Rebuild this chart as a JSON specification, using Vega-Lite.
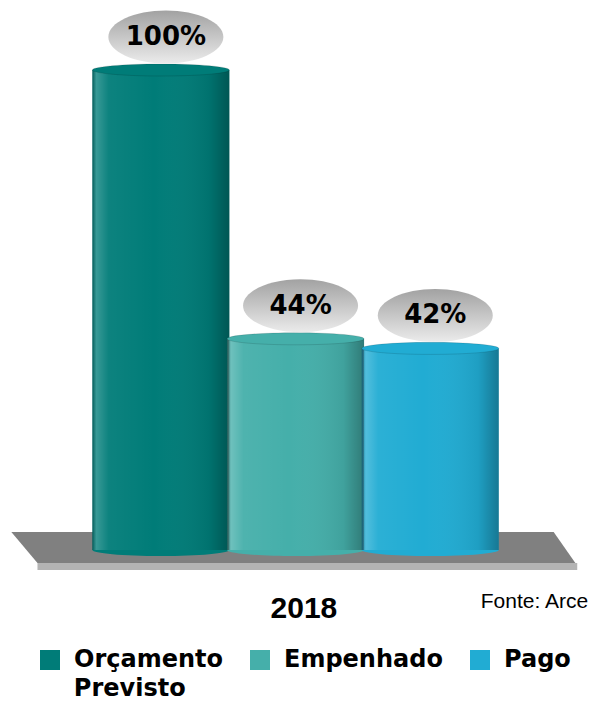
{
  "$schema": "https://vega.github.io/schema/vega-lite/v6.json",
  "width": 598,
  "height": 703,
  "padding": 0,
  "background": "white",
  "config": {"view": {"stroke": null}},
  "datasets": {
    "bars": [
      {"cat": "Orçamento Previsto", "idx": 0, "value": 100, "label": "100%"},
      {"cat": "Empenhado", "idx": 1, "value": 44, "label": "44%"},
      {"cat": "Pago", "idx": 2, "value": 42, "label": "42%"}
    ],
    "floor": [
      {"fy": 3.75, "fx": -1.11, "fx2": 2.916},
      {"fy": -2.71, "fx": -0.916, "fx2": 3.077}
    ],
    "edge": [
      {"ey": -2.71, "ey2": -4.17, "ex": -0.916, "ex2": 3.091}
    ]
  },
  "layer": [
    {
      "data": {"name": "floor"},
      "mark": {"type": "area", "orient": "horizontal", "color": "#808080", "interpolate": "linear"},
      "encoding": {
        "y": {"field": "fy", "type": "quantitative", "scale": {"domain": [-31.875, 114.58], "nice": false, "zero": false}, "axis": null},
        "x": {"field": "fx", "type": "quantitative", "scale": {"domain": [-1.157, 3.208], "nice": false, "zero": false}, "axis": null},
        "x2": {"field": "fx2"}
      }
    },
    {
      "data": {"name": "edge"},
      "mark": {"type": "rect", "color": "#b4b4b4"},
      "encoding": {
        "y": {"field": "ey", "type": "quantitative", "scale": {"domain": [-31.875, 114.58], "nice": false, "zero": false}, "axis": null},
        "y2": {"field": "ey2"},
        "x": {"field": "ex", "type": "quantitative", "scale": {"domain": [-1.157, 3.208], "nice": false, "zero": false}, "axis": null},
        "x2": {"field": "ex2"}
      }
    },
    {
      "data": {"name": "bars"},
      "mark": {"type": "point", "filled": true, "opacity": 1, "size": 18769, "shape": "M-1,0C-1,-0.0485,-0.5523,-0.088,0,-0.088C0.5523,-0.088,1,-0.0485,1,0C1,0.0485,0.5523,0.088,0,0.088C-0.5523,0.088,-1,0.0485,-1,0Z"},
      "encoding": {
        "x": {"field": "idx", "type": "quantitative", "scale": {"domain": [-1.157, 3.208], "nice": false, "zero": false}, "axis": null},
        "y": {"datum": 0, "type": "quantitative", "scale": {"domain": [-31.875, 114.58], "nice": false, "zero": false}, "axis": null},
        "color": {"field": "cat", "type": "nominal", "sort": ["Orçamento Previsto", "Empenhado", "Pago"],
          "scale": {"domain": ["Orçamento Previsto", "Empenhado", "Pago"], "range": ["#007c78", "#45afaa", "#21acd3"]},
          "legend": {"orient": "none", "legendX": 38, "legendY": 648, "direction": "horizontal", "title": null, "symbolType": "square", "symbolSize": 400, "symbolStrokeWidth": 0, "symbolOpacity": 1, "labelFont": "DejaVu Sans", "labelFontWeight": "bold", "labelFontSize": 24, "labelColor": "#000000", "labelOffset": 12, "columnPadding": 25, "labelLimit": 300,
            "labelExpr": "datum.label == 'Orçamento Previsto' ? 'Orçamento' : datum.label"}
        }
      }
    },
    {
      "data": {"name": "bars"},
      "mark": {"type": "bar", "orient": "vertical", "width": 137},
      "encoding": {
        "x": {"field": "idx", "type": "quantitative", "scale": {"domain": [-1.157, 3.208], "nice": false, "zero": false}, "axis": null},
        "y": {"field": "value", "type": "quantitative", "scale": {"domain": [-31.875, 114.58], "nice": false, "zero": false}, "axis": null},
        "y2": {"datum": 0},
        "color": {"field": "cat", "type": "nominal", "sort": ["Orçamento Previsto", "Empenhado", "Pago"],
          "scale": {"domain": ["Orçamento Previsto", "Empenhado", "Pago"], "range": ["#007c78", "#45afaa", "#21acd3"]},
          "legend": {"orient": "none", "legendX": 38, "legendY": 648, "direction": "horizontal", "title": null, "symbolType": "square", "symbolSize": 400, "symbolStrokeWidth": 0, "symbolOpacity": 1, "labelFont": "DejaVu Sans", "labelFontWeight": "bold", "labelFontSize": 24, "labelColor": "#000000", "labelOffset": 12, "columnPadding": 25, "labelLimit": 300,
            "labelExpr": "datum.label == 'Orçamento Previsto' ? 'Orçamento' : datum.label"}
        }
      }
    },
    {
      "data": {"name": "bars"},
      "mark": {"type": "bar", "orient": "vertical", "width": 137,
        "fill": {"gradient": "linear", "x1": 0, "y1": 0, "x2": 1, "y2": 0, "stops": [
          {"offset": 0, "color": "rgba(0,0,0,0.28)"},
          {"offset": 0.03, "color": "rgba(255,255,255,0.22)"},
          {"offset": 0.12, "color": "rgba(255,255,255,0.05)"},
          {"offset": 0.45, "color": "rgba(255,255,255,0)"},
          {"offset": 0.85, "color": "rgba(0,0,0,0.08)"},
          {"offset": 1, "color": "rgba(0,0,0,0.3)"}
        ]}},
      "encoding": {
        "x": {"field": "idx", "type": "quantitative", "scale": {"domain": [-1.157, 3.208], "nice": false, "zero": false}, "axis": null},
        "y": {"field": "value", "type": "quantitative", "scale": {"domain": [-31.875, 114.58], "nice": false, "zero": false}, "axis": null},
        "y2": {"datum": 0}
      }
    },
    {
      "data": {"name": "bars"},
      "mark": {"type": "point", "filled": true, "opacity": 1, "size": 18769, "stroke": "rgba(0,0,0,0.12)", "strokeWidth": 1, "shape": "M-1,0C-1,-0.0485,-0.5523,-0.088,0,-0.088C0.5523,-0.088,1,-0.0485,1,0C1,0.0485,0.5523,0.088,0,0.088C-0.5523,0.088,-1,0.0485,-1,0Z"},
      "encoding": {
        "x": {"field": "idx", "type": "quantitative", "scale": {"domain": [-1.157, 3.208], "nice": false, "zero": false}, "axis": null},
        "y": {"field": "value", "type": "quantitative", "scale": {"domain": [-31.875, 114.58], "nice": false, "zero": false}, "axis": null},
        "color": {"field": "cat", "type": "nominal", "sort": ["Orçamento Previsto", "Empenhado", "Pago"],
          "scale": {"domain": ["Orçamento Previsto", "Empenhado", "Pago"], "range": ["#007c78", "#45afaa", "#21acd3"]},
          "legend": {"orient": "none", "legendX": 38, "legendY": 648, "direction": "horizontal", "title": null, "symbolType": "square", "symbolSize": 400, "symbolStrokeWidth": 0, "symbolOpacity": 1, "labelFont": "DejaVu Sans", "labelFontWeight": "bold", "labelFontSize": 24, "labelColor": "#000000", "labelOffset": 12, "columnPadding": 25, "labelLimit": 300,
            "labelExpr": "datum.label == 'Orçamento Previsto' ? 'Orçamento' : datum.label"}
        }
      }
    },
    {
      "data": {"name": "bars"},
      "mark": {"type": "point", "filled": true, "opacity": 1, "size": 13225, "xOffset": 5, "yOffset": -33,
        "shape": "M-1,0C-1,-0.254,-0.5523,-0.46,0,-0.46C0.5523,-0.46,1,-0.254,1,0C1,0.254,0.5523,0.46,0,0.46C-0.5523,0.46,-1,0.254,-1,0Z",
        "fill": {"gradient": "linear", "x1": 0, "y1": 0, "x2": 0, "y2": 1, "stops": [
          {"offset": 0, "color": "#a2a2a2"},
          {"offset": 1, "color": "#ebebeb"}
        ]}},
      "encoding": {
        "x": {"field": "idx", "type": "quantitative", "scale": {"domain": [-1.157, 3.208], "nice": false, "zero": false}, "axis": null},
        "y": {"field": "value", "type": "quantitative", "scale": {"domain": [-31.875, 114.58], "nice": false, "zero": false}, "axis": null}
      }
    },
    {
      "data": {"name": "bars"},
      "mark": {"type": "text", "xOffset": 5, "yOffset": -33, "baseline": "middle", "align": "center", "font": "DejaVu Sans", "fontWeight": "bold", "fontSize": 26, "color": "#000000"},
      "encoding": {
        "x": {"field": "idx", "type": "quantitative", "scale": {"domain": [-1.157, 3.208], "nice": false, "zero": false}, "axis": null},
        "y": {"field": "value", "type": "quantitative", "scale": {"domain": [-31.875, 114.58], "nice": false, "zero": false}, "axis": null},
        "text": {"field": "label"}
      }
    },
    {
      "data": {"values": [{"t": "2018"}]},
      "mark": {"type": "text", "baseline": "alphabetic", "align": "center", "font": "Liberation Sans Narrow, Liberation Sans", "fontWeight": "bold", "fontSize": 30, "color": "#000000"},
      "encoding": {
        "x": {"datum": 1.062, "type": "quantitative", "scale": {"domain": [-1.157, 3.208], "nice": false, "zero": false}, "axis": null},
        "y": {"datum": -14.17, "type": "quantitative", "scale": {"domain": [-31.875, 114.58], "nice": false, "zero": false}, "axis": null},
        "text": {"field": "t"}
      }
    },
    {
      "data": {"values": [{"t": "Fonte: Arce"}]},
      "mark": {"type": "text", "baseline": "alphabetic", "align": "right", "font": "Liberation Sans", "fontSize": 21, "color": "#000000"},
      "encoding": {
        "x": {"datum": 3.172, "type": "quantitative", "scale": {"domain": [-1.157, 3.208], "nice": false, "zero": false}, "axis": null},
        "y": {"datum": -12.08, "type": "quantitative", "scale": {"domain": [-31.875, 114.58], "nice": false, "zero": false}, "axis": null},
        "text": {"field": "t"}
      }
    },
    {
      "data": {"values": [{"t": "Previsto"}]},
      "mark": {"type": "text", "baseline": "alphabetic", "align": "left", "font": "DejaVu Sans", "fontWeight": "bold", "fontSize": 24, "color": "#000000"},
      "encoding": {
        "x": {"datum": -0.646, "type": "quantitative", "scale": {"domain": [-1.157, 3.208], "nice": false, "zero": false}, "axis": null},
        "y": {"datum": -30.4, "type": "quantitative", "scale": {"domain": [-31.875, 114.58], "nice": false, "zero": false}, "axis": null},
        "text": {"field": "t"}
      }
    }
  ]
}
